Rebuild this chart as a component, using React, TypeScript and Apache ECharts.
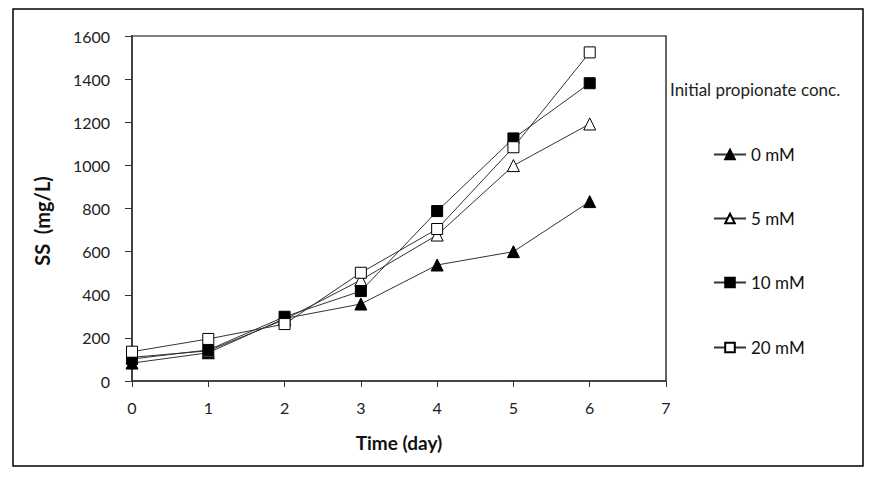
import React, { useEffect, useRef } from "react";
import * as echarts from "echarts";

const days = [0, 1, 2, 3, 4, 5, 6];
const seriesNames = ["0 mM", "5 mM", "10 mM", "20 mM"];
const ss0 = [83, 131, 290, 357, 538, 600, 832];
const ss5 = [110, 140, 285, 468, 677, 999, 1192];
const ss10 = [102, 144, 298, 417, 788, 1125, 1381];
const ss20 = [136, 195, 264, 502, 705, 1084, 1524];
const legendTitle = "Initial propionate conc.";
const xTitle = "Time (day)";
const yTitle = "SS  (mg/L)";

const FONT = "Lato, 'Open Sans', sans-serif";

export default function App() {
  const ref = useRef<HTMLDivElement>(null);
  useEffect(() => {
    if (!ref.current) return;
    const chart = echarts.init(ref.current, null, { renderer: "svg" });
    const values = [ss0, ss5, ss10, ss20];
    const symbols = ["triangle", "triangle", "rect", "rect"];
    const fills = ["#000", "#fff", "#000", "#fff"];
    const sizes = [12, 12, 11, 11];
    const legendTops = [151, 215, 279, 344];
    chart.setOption({
      animation: false,
      backgroundColor: "#fff",
      textStyle: { fontFamily: FONT },
      grid: {
        left: 132,
        right: 223,
        top: 36,
        bottom: 97,
        show: true,
        borderColor: "#000",
        borderWidth: 1.2,
        backgroundColor: "transparent",
      },
      xAxis: {
        type: "value",
        min: 0,
        max: 7,
        interval: 1,
        name: xTitle,
        nameLocation: "middle",
        nameGap: 52,
        nameTextStyle: { fontSize: 19, fontWeight: "bold", color: "#111", fontFamily: FONT },
        axisLine: { show: true, onZero: false, lineStyle: { color: "#333", width: 1.5 } },
        axisTick: { show: true, inside: false, length: 6, lineStyle: { color: "#333" } },
        axisLabel: { fontSize: 16, color: "#222", margin: 18, fontFamily: FONT, formatter: (v: number) => String(v) },
        splitLine: { show: false },
      },
      yAxis: {
        type: "value",
        min: 0,
        max: 1600,
        interval: 200,
        name: yTitle,
        nameLocation: "middle",
        nameGap: 80,
        nameTextStyle: { fontSize: 20, fontWeight: "bold", color: "#111", fontFamily: FONT, padding: [0, 0, 0, -25] },
        axisLine: { show: true, onZero: false, lineStyle: { color: "#444", width: 2 } },
        axisTick: { show: true, inside: false, length: 7, lineStyle: { color: "#333" } },
        axisLabel: { fontSize: 16, color: "#222", margin: 22, fontFamily: FONT, formatter: (v: number) => String(v) },
        splitLine: { show: false },
      },
      legend: seriesNames.map((n, i) => ({
        data: [n],
        left: 708,
        top: legendTops[i] - 10,
        itemWidth: 32,
        itemHeight: 12,
        itemGap: 4,
        textStyle: { fontSize: 17, color: "#111", fontFamily: FONT },
        selectedMode: false,
      })),
      graphic: [
        {
          type: "rect",
          shape: { x: 13, y: 9, width: 850, height: 457 },
          style: { fill: "none", stroke: "#000", lineWidth: 1.5 },
          silent: true,
        },
        {
          type: "text",
          x: 670,
          y: 89,
          style: {
            text: legendTitle,
            fontSize: 17,
            fill: "#222",
            fontFamily: FONT,
            verticalAlign: "middle",
          },
        },
      ],
      series: seriesNames.map((n, i) => ({
        name: n,
        type: "line",
        data: days.map((d, j) => [d, values[i][j]]),
        symbol: symbols[i],
        symbolSize: sizes[i],
        showSymbol: true,
        lineStyle: { color: "#333", width: 1 },
        itemStyle: { color: fills[i], borderColor: "#000", borderWidth: 1 },
        z: 2 + i,
      })),
    });
    return () => chart.dispose();
  }, []);
  return (
    <div
      ref={ref}
      style={{ position: "fixed", left: 0, top: 0, width: 889, height: 478 }}
    />
  );
}
